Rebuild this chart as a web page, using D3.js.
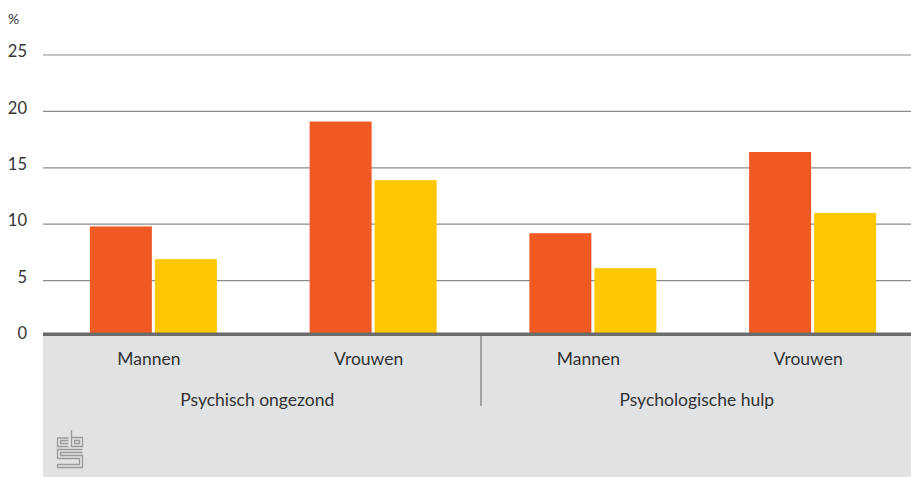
<!DOCTYPE html>
<html><head><meta charset="utf-8">
<script src="https://cdn.jsdelivr.net/npm/d3@7"></script>
<style>
html,body{margin:0;padding:0;background:#fff;}
text{font-family:Lato,"Open Sans",sans-serif;fill:#333;}
</style></head>
<body><svg id="c" width="911" height="477"></svg>
<script>
const categories = ["Mannen","Vrouwen","Mannen","Vrouwen"];
const groups = ["Psychisch ongezond","Psychologische hulp"];
const series = ["Serie 1","Serie 2"];
const orangeValues = [9.8, 19.1, 9.2, 16.4];
const yellowValues = [6.9, 13.9, 6.1, 11.0];
const yTicks = [0,5,10,15,20,25];
const colors = ["#f05a22","#ffc800"];

const svg = d3.select("#c");
const W = 911, H = 477;
const left = 43, right = 911;
const y = d3.scaleLinear().domain([0,25]).range([337,55]);
const x = d3.scaleBand().domain(d3.range(categories.length)).range([39,918]).padding(0);
const barW = 62, gap = 3, off = 4.5;

// gray panel
svg.append("rect").attr("x",left).attr("y",336).attr("width",right-left).attr("height",H-336).attr("fill","#e1e2e4");

// gridlines
svg.append("g").selectAll("line").data(yTicks.filter(d=>d>0)).join("line")
  .attr("x1",left).attr("x2",right).attr("y1",d=>y(d)).attr("y2",d=>y(d))
  .attr("stroke","#8c8c8c").attr("stroke-width",1.2);

// tick labels
svg.append("g").selectAll("text").data(yTicks).join("text")
  .attr("x",27).attr("y",d=>y(d)-2).attr("text-anchor","end").attr("dominant-baseline","middle")
  .attr("font-size",16.5).text(d=>d);
svg.append("text").attr("x",8).attr("y",24).attr("font-size",14).text("%");

// bars
const data = categories.map((c,i)=>({i, v:[orangeValues[i], yellowValues[i]]}));
const g = svg.append("g");
data.forEach(d=>{
  d.v.forEach((v,k)=>{
    const cx = x(d.i)+x.bandwidth()/2+off;
    const bx = k===0 ? cx-gap/2-barW : cx+gap/2;
    g.append("rect").attr("x",bx).attr("y",y(v)).attr("width",barW).attr("height",333-y(v))
      .attr("fill",colors[k]);
  });
});

// baseline
svg.append("rect").attr("x",left).attr("y",332.5).attr("width",right-left).attr("height",3.5).attr("fill","#6b6b6b");

// category labels
svg.append("g").selectAll("text").data(categories).join("text")
  .attr("x",(d,i)=>x(i)+x.bandwidth()/2).attr("y",365).attr("text-anchor","middle")
  .attr("font-size",17.5).text(d=>d);
// group labels
svg.append("g").selectAll("text").data(groups).join("text")
  .attr("x",(d,i)=>(x(2*i)+x(2*i+1)+x.bandwidth())/2 - 1.5).attr("y",406).attr("text-anchor","middle")
  .attr("font-size",17.5).text(d=>d);
// separator
svg.append("line").attr("x1",481).attr("x2",481).attr("y1",336).attr("y2",406)
  .attr("stroke","#8c8c8c").attr("stroke-width",1.5);

// cbs logo
const lg = svg.append("g").attr("transform","translate(57,430)").attr("fill","none")
  .attr("stroke","#9a9a9a").attr("stroke-width",1.3);
lg.append("path").attr("d","M14.5,0 V7.5 H25.5 V16.5 H14.5 V7.5 M17.5,10.5 H22.5 V13.5 H17.5 Z");
lg.append("path").attr("d","M11.5,8 H0.5 V16.5 H11.5 M11.5,13.5 H3.5 V10.5 H11.5");
lg.append("path").attr("d","M25.5,19.5 H0.5 V28.5 H22.5 V34.5 H0.5 V37.5 H25.5 V25.5 H3.5 V22.5 H25.5");
</script></body></html>
